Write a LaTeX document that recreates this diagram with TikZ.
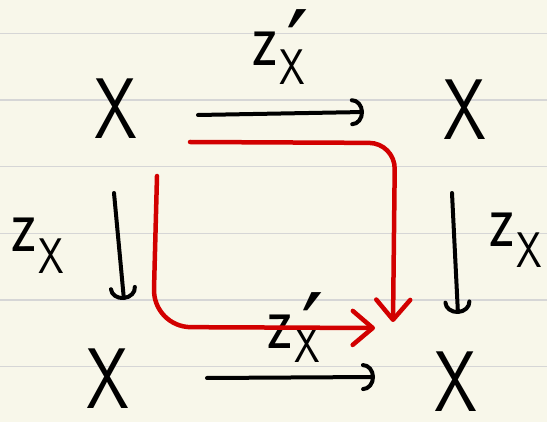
\documentclass[tikz,border=0pt]{standalone}
\usepackage{fontspec}
\newfontfamily\primefont{DejaVu Sans}
\usetikzlibrary{arrows.meta,calc}
\definecolor{paper}{RGB}{248,247,234}
\definecolor{ruling}{RGB}{214,214,214}
\definecolor{pen}{RGB}{210,0,0}
\newcommand\zz{{\fontsize{78}{78}\selectfont\scalebox{0.78}[1]{z}}\hspace{2pt}}
\newcommand\zsub[1]{\zz\raisebox{-#1pt}{\fontsize{50}{50}\selectfont\scalebox{0.82}[1]{X}}}
\newcommand\zsubp[1]{\zz\raisebox{-#1pt}{\fontsize{50}{50}\selectfont\scalebox{0.82}[1]{X}}\llap{\smash{\raisebox{-17pt}{\primefont\fontsize{100}{100}\selectfont ′}}\hspace{-5pt}}}
\begin{document}
\begin{tikzpicture}[x=1pt,y=-1pt,
  obj/.style={inner sep=0pt, font=\fontsize{86}{86}\selectfont\sffamily},
  lab/.style={inner sep=0pt, anchor=base west, font=\sffamily},
  arr/.style={line width=4pt, line cap=round, -{Arc Barb[length=12pt,width=28pt,round]}},
  redarr/.style={pen, line width=4.5pt, line cap=round, line join=round, -{Straight Barb[length=20pt,width=34pt,round]}}]
\fill[paper] (0,0) rectangle (547,422);
\useasboundingbox (0,0) rectangle (547,422);
\foreach \yy in {33.3,100,166.7,233.3,300,366.7}
  \draw[ruling, line width=1.5pt] (0,\yy) -- (547,\yy);
% objects
\node[obj] (TL) at (116,109) {\scalebox{0.8}[1]{X}};
\node[obj] (TR) at (465,110) {\scalebox{0.8}[1]{X}};
\node[obj] (BL) at (108,379) {\scalebox{0.8}[1]{X}};
\node[obj] (BR) at (456,382) {\scalebox{0.8}[1]{X}};
% labels
\node[lab] (lt) at (252,66) {\zsubp{19}};
\node[lab] (ll) at (11,252) {\zsub{22}};
\node[lab] (lr) at (489,247) {\zsub{21}};
\node[lab] (lb) at (267,349) {\zsubp{14}};
% black arrows
\draw[arr] ($(TL.center)+(82,6)$) -- ($(TR.center)+(-101,2)$);
\draw[arr] ($(TL.center)+(-2,84)$) -- ($(BL.center)+(16,-79)$);
\draw[arr] ($(TR.center)+(-13,83)$) -- ($(BR.center)+(2,-68)$);
\draw[arr] ($(BL.center)+(99,-1)$) -- ($(BR.center)+(-81,-5)$);
% red paths
\coordinate (r1s) at (190,142);
\coordinate (r1c) at (395,143);
\coordinate (r1e) at (393,322);
\coordinate (r2s) at (157,176);
\coordinate (r2c) at (153,327);
\coordinate (r2e) at (375,328);
\draw[redarr, rounded corners=26pt] (r1s) -- (r1c) -- (r1e);
\draw[redarr, rounded corners=38pt] (r2s) -- (r2c) -- (r2e);
\end{tikzpicture}
\end{document}
